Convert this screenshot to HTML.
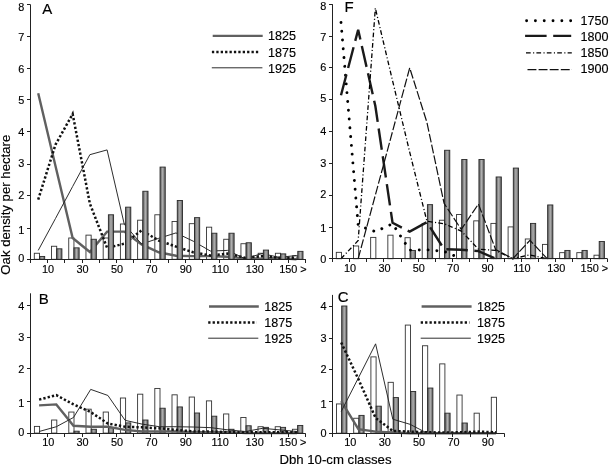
<!DOCTYPE html>
<html><head><meta charset="utf-8"><style>
html,body{margin:0;padding:0;background:#fff;}
body{width:609px;height:465px;overflow:hidden;}
svg{display:block;filter:grayscale(1);}
text{font-family:"Liberation Sans", sans-serif;fill:#000;stroke:#000;stroke-width:0.15px;}
.tk{font-size:10.9px;}
.lg{font-size:12.6px;}
.pl{font-size:15px;}
.ttl{font-size:13.2px;}
.ax{stroke:#222;stroke-width:1;fill:none;}
.bw{fill:#fff;stroke:#333;stroke-width:0.9;}
.bg{fill:url(#gg);stroke:#2a2a2a;stroke-width:0.9;}
.s1825{stroke:#606060;stroke-width:2.4;fill:none;stroke-linejoin:miter}
.s1875{stroke:#111;stroke-width:2.5;fill:none;stroke-dasharray:2.3 2.1}
.s1925{stroke:#222;stroke-width:0.95;fill:none}
.s1750{stroke:#000;stroke-width:2.9;fill:none;stroke-dasharray:0.01 8.8;stroke-linecap:round}
.s1800{stroke:#1a1a1a;stroke-width:2.4;fill:none;stroke-dasharray:21.5 6.6}
.s1850{stroke:#000;stroke-width:1.3;fill:none;stroke-dasharray:4.7 2.4 1.1 2.2}
.s1900{stroke:#111;stroke-width:1.2;fill:none;stroke-dasharray:8.9 2.2}
</style></head>
<body><svg width="609" height="465" viewBox="0 0 609 465">
<defs><linearGradient id="gg" x1="0" x2="1" y1="0" y2="0"><stop offset="0" stop-color="#5c5c5c"/><stop offset="0.3" stop-color="#8c8c8c"/><stop offset="0.5" stop-color="#b0b0b0"/><stop offset="0.7" stop-color="#8c8c8c"/><stop offset="1" stop-color="#5c5c5c"/></linearGradient></defs>
<rect width="609" height="465" fill="#fff"/>
<rect x="34.3" y="253.26" width="5.2" height="6.04" class="bw"/>
<rect x="51.52" y="246.26" width="5.2" height="13.04" class="bw"/>
<rect x="68.74" y="237.99" width="5.2" height="21.31" class="bw"/>
<rect x="85.96" y="235.13" width="5.2" height="24.17" class="bw"/>
<rect x="103.18" y="237.99" width="5.2" height="21.31" class="bw"/>
<rect x="120.4" y="224" width="5.2" height="35.3" class="bw"/>
<rect x="137.62" y="220.19" width="5.2" height="39.11" class="bw"/>
<rect x="154.84" y="214.78" width="5.2" height="44.52" class="bw"/>
<rect x="172.06" y="221.46" width="5.2" height="37.84" class="bw"/>
<rect x="189.28" y="223.68" width="5.2" height="35.62" class="bw"/>
<rect x="206.5" y="227.18" width="5.2" height="32.12" class="bw"/>
<rect x="223.72" y="239.27" width="5.2" height="20.03" class="bw"/>
<rect x="240.94" y="243.72" width="5.2" height="15.58" class="bw"/>
<rect x="258.16" y="253.26" width="5.2" height="6.04" class="bw"/>
<rect x="275.38" y="253.26" width="5.2" height="6.04" class="bw"/>
<rect x="292.6" y="255.8" width="5.2" height="3.5" class="bw"/>
<polyline class="s1825" points="38.21,93.3 55.43,165.81 72.65,237.99 89.87,251.99 107.09,231.63 124.31,231.63 141.53,244.35 158.75,252.3 175.97,255.8 193.19,256.12 210.41,256.12 227.63,256.76 244.85,258.35 262.07,258.66 279.29,258.03 296.51,259.3"/>
<polyline class="s1875" points="38.21,199.52 55.43,144.82 72.65,113.97 89.87,203.65 107.09,247.85 124.31,243.72 141.53,230.36 158.75,240.54 175.97,246.58 193.19,252.3 210.41,255.48 227.63,253.58 244.85,257.71 262.07,256.12 279.29,257.71 296.51,257.71"/>
<polyline class="s1925" points="38.21,250.4 55.43,218.6 72.65,186.48 89.87,154.68 107.09,149.91 124.31,224.32 141.53,244.04 158.75,238.31 175.97,232.91 193.19,241.17 210.41,251.03 227.63,250.4 244.85,258.66 262.07,253.58 279.29,257.39 296.51,255.48"/>
<rect x="39.5" y="256.44" width="5.2" height="2.86" class="bg"/>
<rect x="56.72" y="248.81" width="5.2" height="10.49" class="bg"/>
<rect x="73.94" y="247.85" width="5.2" height="11.45" class="bg"/>
<rect x="91.16" y="239.27" width="5.2" height="20.03" class="bg"/>
<rect x="108.38" y="214.78" width="5.2" height="44.52" class="bg"/>
<rect x="125.6" y="207.15" width="5.2" height="52.15" class="bg"/>
<rect x="142.82" y="191.25" width="5.2" height="68.05" class="bg"/>
<rect x="160.04" y="167.08" width="5.2" height="92.22" class="bg"/>
<rect x="177.26" y="200.47" width="5.2" height="58.83" class="bg"/>
<rect x="194.48" y="217.64" width="5.2" height="41.66" class="bg"/>
<rect x="211.7" y="233.22" width="5.2" height="26.08" class="bg"/>
<rect x="228.92" y="233.22" width="5.2" height="26.08" class="bg"/>
<rect x="246.14" y="242.76" width="5.2" height="16.54" class="bg"/>
<rect x="263.36" y="250.08" width="5.2" height="9.22" class="bg"/>
<rect x="280.58" y="253.89" width="5.2" height="5.41" class="bg"/>
<rect x="297.8" y="251.35" width="5.2" height="7.95" class="bg"/>
<path class="ax" d="M30.5 4.6V260" />
<path class="ax" d="M30 259.5H305.92" />
<path class="ax" d="M27 259.5H30.5" />
<text class="tk" text-anchor="end" transform="translate(24.3,262.3) scale(1,1.0)">0</text>
<path class="ax" d="M27 228.5H30.5" />
<text class="tk" text-anchor="end" transform="translate(24.3,233.6) scale(1,1.0)">1</text>
<path class="ax" d="M27 195.5H30.5" />
<text class="tk" text-anchor="end" transform="translate(24.3,199.2) scale(1,1.0)">2</text>
<path class="ax" d="M27 164.5H30.5" />
<text class="tk" text-anchor="end" transform="translate(24.3,167.2) scale(1,1.0)">3</text>
<path class="ax" d="M27 131.5H30.5" />
<text class="tk" text-anchor="end" transform="translate(24.3,135.8) scale(1,1.0)">4</text>
<path class="ax" d="M27 99.5H30.5" />
<text class="tk" text-anchor="end" transform="translate(24.3,103.8) scale(1,1.0)">5</text>
<path class="ax" d="M27 68.5H30.5" />
<text class="tk" text-anchor="end" transform="translate(24.3,72.6) scale(1,1.0)">6</text>
<path class="ax" d="M27 36.5H30.5" />
<text class="tk" text-anchor="end" transform="translate(24.3,41.3) scale(1,1.0)">7</text>
<path class="ax" d="M27 4.5H30.5" />
<text class="tk" text-anchor="end" transform="translate(24.3,10.7) scale(1,1.0)">8</text>
<path class="ax" d="M30.5 259.5V263" />
<path class="ax" d="M47.5 259.5V263" />
<path class="ax" d="M64.5 259.5V263" />
<path class="ax" d="M82.5 259.5V263" />
<path class="ax" d="M99.5 259.5V263" />
<path class="ax" d="M116.5 259.5V263" />
<path class="ax" d="M133.5 259.5V263" />
<path class="ax" d="M150.5 259.5V263" />
<path class="ax" d="M168.5 259.5V263" />
<path class="ax" d="M185.5 259.5V263" />
<path class="ax" d="M202.5 259.5V263" />
<path class="ax" d="M219.5 259.5V263" />
<path class="ax" d="M237.5 259.5V263" />
<path class="ax" d="M254.5 259.5V263" />
<path class="ax" d="M271.5 259.5V263" />
<path class="ax" d="M288.5 259.5V263" />
<path class="ax" d="M305.5 259.5V263" />
<text class="tk" text-anchor="middle" transform="translate(48.12,273.3) scale(1,1.0)">10</text>
<text class="tk" text-anchor="middle" transform="translate(82.56,273.3) scale(1,1.0)">30</text>
<text class="tk" text-anchor="middle" transform="translate(117,273.3) scale(1,1.0)">50</text>
<text class="tk" text-anchor="middle" transform="translate(151.44,273.3) scale(1,1.0)">70</text>
<text class="tk" text-anchor="middle" transform="translate(185.88,273.3) scale(1,1.0)">90</text>
<text class="tk" text-anchor="middle" transform="translate(220.32,273.3) scale(1,1.0)">110</text>
<text class="tk" text-anchor="middle" transform="translate(254.76,273.3) scale(1,1.0)">130</text>
<text class="tk" text-anchor="middle" transform="translate(288.3,273.3) scale(1,1.0)">150</text>
<text class="tk" text-anchor="middle" transform="translate(303.52,272.7) scale(1,1.0)">&gt;</text>
<text class="pl" transform="translate(42.2,13.6) scale(1,1.02)">A</text>
<path class="s1825" d="M212.7 35.9H262.7"/>
<text class="lg" transform="translate(268,40) scale(1,1.07)">1825</text>
<path class="s1875" d="M211.9 51.9H258.6"/>
<text class="lg" transform="translate(268,56.9) scale(1,1.07)">1875</text>
<path class="s1925" d="M211.8 67.8H262.4"/>
<text class="lg" transform="translate(268,72.5) scale(1,1.07)">1925</text>
<rect x="336.3" y="252.34" width="5.2" height="6.36" class="bw"/>
<rect x="353.48" y="245.98" width="5.2" height="12.72" class="bw"/>
<rect x="370.66" y="237.39" width="5.2" height="21.31" class="bw"/>
<rect x="387.84" y="235.17" width="5.2" height="23.53" class="bw"/>
<rect x="405.02" y="237.71" width="5.2" height="20.99" class="bw"/>
<rect x="422.2" y="223.4" width="5.2" height="35.3" class="bw"/>
<rect x="439.38" y="220.22" width="5.2" height="38.48" class="bw"/>
<rect x="456.56" y="214.5" width="5.2" height="44.2" class="bw"/>
<rect x="473.74" y="220.86" width="5.2" height="37.84" class="bw"/>
<rect x="490.92" y="223.4" width="5.2" height="35.3" class="bw"/>
<rect x="508.1" y="226.9" width="5.2" height="31.8" class="bw"/>
<rect x="525.28" y="238.98" width="5.2" height="19.72" class="bw"/>
<rect x="542.46" y="244.39" width="5.2" height="14.31" class="bw"/>
<rect x="559.64" y="252.66" width="5.2" height="6.04" class="bw"/>
<rect x="576.82" y="252.66" width="5.2" height="6.04" class="bw"/>
<rect x="594" y="255.2" width="5.2" height="3.5" class="bw"/>
<rect x="410.22" y="250.43" width="5.2" height="8.27" class="bg"/>
<rect x="427.4" y="204.64" width="5.2" height="54.06" class="bg"/>
<rect x="444.58" y="150.26" width="5.2" height="108.44" class="bg"/>
<rect x="461.76" y="159.48" width="5.2" height="99.22" class="bg"/>
<rect x="478.94" y="159.48" width="5.2" height="99.22" class="bg"/>
<rect x="496.12" y="176.97" width="5.2" height="81.73" class="bg"/>
<rect x="513.3" y="168.07" width="5.2" height="90.63" class="bg"/>
<rect x="530.48" y="223.4" width="5.2" height="35.3" class="bg"/>
<rect x="547.66" y="204.96" width="5.2" height="53.74" class="bg"/>
<rect x="564.84" y="250.43" width="5.2" height="8.27" class="bg"/>
<rect x="582.02" y="250.43" width="5.2" height="8.27" class="bg"/>
<rect x="599.2" y="241.53" width="5.2" height="17.17" class="bg"/>
<polyline class="s1750" points="340.99,22.43 358.17,225.31 375.35,231.67 392.53,223.72 409.71,250.11 426.89,249.8 444.07,251.39 461.25,258.7"/>
<polyline class="s1800" points="340.99,95.25 358.17,29.74 375.35,106.06 392.53,222.77 409.71,231.67 426.89,222.13 444.07,249.16 461.25,249.8 478.43,251.07 495.61,258.7"/>
<polyline class="s1850" points="340.99,258.7 358.17,240.57 375.35,8.12 392.53,80.62 409.71,152.17 426.89,221.18 444.07,223.72 461.25,231.03 478.43,249.16 495.61,250.43 512.79,258.7 529.97,254.88 547.15,258.7"/>
<polyline class="s1900" points="358.17,258.7 375.35,195.1 392.53,131.5 409.71,67.9 426.89,122.28 444.07,203.37 461.25,229.44 478.43,204 495.61,249.48 512.79,258.7 529.97,240.26 547.15,258.7"/>
<path class="ax" d="M332.5 4.2V259" />
<path class="ax" d="M332 258.5H607.28" />
<path class="ax" d="M329 258.5H332.5" />
<text class="tk" text-anchor="end" transform="translate(326.3,262.7) scale(1,1.0)">0</text>
<path class="ax" d="M329 227.5H332.5" />
<text class="tk" text-anchor="end" transform="translate(326.3,232.4) scale(1,1.0)">1</text>
<path class="ax" d="M329 195.5H332.5" />
<text class="tk" text-anchor="end" transform="translate(326.3,198) scale(1,1.0)">2</text>
<path class="ax" d="M329 163.5H332.5" />
<text class="tk" text-anchor="end" transform="translate(326.3,166.9) scale(1,1.0)">3</text>
<path class="ax" d="M329 131.5H332.5" />
<text class="tk" text-anchor="end" transform="translate(326.3,135.2) scale(1,1.0)">4</text>
<path class="ax" d="M329 99.5H332.5" />
<text class="tk" text-anchor="end" transform="translate(326.3,102.4) scale(1,1.0)">5</text>
<path class="ax" d="M329 67.5H332.5" />
<text class="tk" text-anchor="end" transform="translate(326.3,71.4) scale(1,1.0)">6</text>
<path class="ax" d="M329 36.5H332.5" />
<text class="tk" text-anchor="end" transform="translate(326.3,40.5) scale(1,1.0)">7</text>
<path class="ax" d="M329 4.5H332.5" />
<text class="tk" text-anchor="end" transform="translate(326.3,10.2) scale(1,1.0)">8</text>
<path class="ax" d="M332.5 258.5V262" />
<path class="ax" d="M349.5 258.5V262" />
<path class="ax" d="M366.5 258.5V262" />
<path class="ax" d="M383.5 258.5V262" />
<path class="ax" d="M401.5 258.5V262" />
<path class="ax" d="M418.5 258.5V262" />
<path class="ax" d="M435.5 258.5V262" />
<path class="ax" d="M452.5 258.5V262" />
<path class="ax" d="M469.5 258.5V262" />
<path class="ax" d="M487.5 258.5V262" />
<path class="ax" d="M504.5 258.5V262" />
<path class="ax" d="M521.5 258.5V262" />
<path class="ax" d="M538.5 258.5V262" />
<path class="ax" d="M555.5 258.5V262" />
<path class="ax" d="M572.5 258.5V262" />
<path class="ax" d="M590.5 258.5V262" />
<path class="ax" d="M607.5 258.5V262" />
<text class="tk" text-anchor="middle" transform="translate(350.08,272.3) scale(1,1.0)">10</text>
<text class="tk" text-anchor="middle" transform="translate(384.44,272.3) scale(1,1.0)">30</text>
<text class="tk" text-anchor="middle" transform="translate(418.8,272.3) scale(1,1.0)">50</text>
<text class="tk" text-anchor="middle" transform="translate(453.16,272.3) scale(1,1.0)">70</text>
<text class="tk" text-anchor="middle" transform="translate(487.52,272.3) scale(1,1.0)">90</text>
<text class="tk" text-anchor="middle" transform="translate(521.88,272.3) scale(1,1.0)">110</text>
<text class="tk" text-anchor="middle" transform="translate(556.24,272.3) scale(1,1.0)">130</text>
<text class="tk" text-anchor="middle" transform="translate(589.7,272.3) scale(1,1.0)">150</text>
<text class="tk" text-anchor="middle" transform="translate(604.88,271.7) scale(1,1.0)">&gt;</text>
<text class="pl" transform="translate(344.6,11.9) scale(1,1.02)">F</text>
<path class="s1750" d="M526.6 20.7H572"/>
<text class="lg" transform="translate(580.4,25.1) scale(1,1.07)">1750</text>
<path class="s1800" d="M525.1 35.9H571.2"/>
<text class="lg" transform="translate(580.4,40.9) scale(1,1.07)">1800</text>
<path class="s1850" d="M526 52.8H571.8"/>
<text class="lg" transform="translate(580.4,56.7) scale(1,1.07)">1850</text>
<path class="s1900" d="M527.5 69.6H572"/>
<text class="lg" transform="translate(580.4,72.5) scale(1,1.07)">1900</text>
<rect x="34.4" y="426.4" width="5.2" height="6.7" class="bw"/>
<rect x="51.6" y="420.02" width="5.2" height="13.08" class="bw"/>
<rect x="68.8" y="412.05" width="5.2" height="21.05" class="bw"/>
<rect x="86" y="409.18" width="5.2" height="23.92" class="bw"/>
<rect x="103.2" y="412.05" width="5.2" height="21.05" class="bw"/>
<rect x="120.4" y="398.01" width="5.2" height="35.09" class="bw"/>
<rect x="137.6" y="394.18" width="5.2" height="38.92" class="bw"/>
<rect x="154.8" y="388.44" width="5.2" height="44.66" class="bw"/>
<rect x="172" y="394.82" width="5.2" height="38.28" class="bw"/>
<rect x="189.2" y="397.05" width="5.2" height="36.05" class="bw"/>
<rect x="206.4" y="400.88" width="5.2" height="32.22" class="bw"/>
<rect x="223.6" y="413.96" width="5.2" height="19.14" class="bw"/>
<rect x="240.8" y="417.47" width="5.2" height="15.63" class="bw"/>
<rect x="258" y="426.72" width="5.2" height="6.38" class="bw"/>
<rect x="275.2" y="426.72" width="5.2" height="6.38" class="bw"/>
<rect x="292.4" y="429.27" width="5.2" height="3.83" class="bw"/>
<rect x="74" y="431.19" width="5.2" height="1.91" class="bg"/>
<rect x="91.2" y="429.27" width="5.2" height="3.83" class="bg"/>
<rect x="108.4" y="427.68" width="5.2" height="5.42" class="bg"/>
<rect x="125.6" y="422.89" width="5.2" height="10.21" class="bg"/>
<rect x="142.8" y="420.02" width="5.2" height="13.08" class="bg"/>
<rect x="160" y="408.22" width="5.2" height="24.88" class="bg"/>
<rect x="177.2" y="406.94" width="5.2" height="26.16" class="bg"/>
<rect x="194.4" y="413" width="5.2" height="20.1" class="bg"/>
<rect x="211.6" y="416.19" width="5.2" height="16.91" class="bg"/>
<rect x="228.8" y="429.27" width="5.2" height="3.83" class="bg"/>
<rect x="246" y="425.76" width="5.2" height="7.34" class="bg"/>
<rect x="263.2" y="427.36" width="5.2" height="5.74" class="bg"/>
<rect x="280.4" y="427.36" width="5.2" height="5.74" class="bg"/>
<rect x="297.6" y="425.44" width="5.2" height="7.66" class="bg"/>
<polyline class="s1825" points="39.1,405.35 56.3,404.39 73.5,425.76 90.7,426.72 107.9,426.72 125.1,429.91 142.3,431.5 159.5,431.5 176.7,431.5 193.9,432.14 211.1,432.14 228.3,432.14 245.5,433.1 262.7,433.1 279.9,433.1 297.1,433.1"/>
<polyline class="s1875" points="39.1,399.61 56.3,395.14 73.5,404.39 90.7,412.05 107.9,423.53 125.1,426.72 142.3,427.36 159.5,428.31 176.7,429.91 193.9,431.5 211.1,431.5 228.3,432.14 245.5,432.14 262.7,432.14 279.9,432.14 297.1,432.14"/>
<polyline class="s1925" points="39.1,431.5 56.3,426.72 73.5,417.47 90.7,389.4 107.9,395.46 125.1,420.34 142.3,424.17 159.5,426.72 176.7,426.72 193.9,427.04 211.1,427.68 228.3,429.91 245.5,431.5 262.7,428.31 279.9,429.91 297.1,431.5"/>
<path class="ax" d="M30.5 293.3V434" />
<path class="ax" d="M30 433.5H305.7" />
<path class="ax" d="M27 433.5H30.5" />
<text class="tk" text-anchor="end" transform="translate(24.4,436.3) scale(1,1.0)">0</text>
<path class="ax" d="M27 401.5H30.5" />
<text class="tk" text-anchor="end" transform="translate(24.4,407.4) scale(1,1.0)">1</text>
<path class="ax" d="M27 368.5H30.5" />
<text class="tk" text-anchor="end" transform="translate(24.4,373.2) scale(1,1.0)">2</text>
<path class="ax" d="M27 337.5H30.5" />
<text class="tk" text-anchor="end" transform="translate(24.4,341.4) scale(1,1.0)">3</text>
<path class="ax" d="M27 305.5H30.5" />
<text class="tk" text-anchor="end" transform="translate(24.4,309.9) scale(1,1.0)">4</text>
<path class="ax" d="M30.5 433.5V437" />
<path class="ax" d="M47.5 433.5V437" />
<path class="ax" d="M64.5 433.5V437" />
<path class="ax" d="M82.5 433.5V437" />
<path class="ax" d="M99.5 433.5V437" />
<path class="ax" d="M116.5 433.5V437" />
<path class="ax" d="M133.5 433.5V437" />
<path class="ax" d="M150.5 433.5V437" />
<path class="ax" d="M168.5 433.5V437" />
<path class="ax" d="M185.5 433.5V437" />
<path class="ax" d="M202.5 433.5V437" />
<path class="ax" d="M219.5 433.5V437" />
<path class="ax" d="M236.5 433.5V437" />
<path class="ax" d="M254.5 433.5V437" />
<path class="ax" d="M271.5 433.5V437" />
<path class="ax" d="M288.5 433.5V437" />
<path class="ax" d="M305.5 433.5V437" />
<text class="tk" text-anchor="middle" transform="translate(48.2,446.3) scale(1,1.0)">10</text>
<text class="tk" text-anchor="middle" transform="translate(82.6,446.3) scale(1,1.0)">30</text>
<text class="tk" text-anchor="middle" transform="translate(117,446.3) scale(1,1.0)">50</text>
<text class="tk" text-anchor="middle" transform="translate(151.4,446.3) scale(1,1.0)">70</text>
<text class="tk" text-anchor="middle" transform="translate(185.8,446.3) scale(1,1.0)">90</text>
<text class="tk" text-anchor="middle" transform="translate(220.2,446.3) scale(1,1.0)">110</text>
<text class="tk" text-anchor="middle" transform="translate(254.6,446.3) scale(1,1.0)">130</text>
<text class="tk" text-anchor="middle" transform="translate(288.1,446.3) scale(1,1.0)">150</text>
<text class="tk" text-anchor="middle" transform="translate(303.3,445.7) scale(1,1.0)">&gt;</text>
<text class="pl" transform="translate(38.8,303.7) scale(1,0.95)">B</text>
<path class="s1825" d="M209 306.5H258.8"/>
<text class="lg" transform="translate(264.3,310.7) scale(1,1.07)">1825</text>
<path class="s1875" d="M208.2 322.4H256.7"/>
<text class="lg" transform="translate(264.3,327) scale(1,1.07)">1875</text>
<path class="s1925" d="M208.2 338.2H258.3"/>
<text class="lg" transform="translate(264.3,342.7) scale(1,1.07)">1925</text>
<rect x="336.5" y="403.94" width="5.2" height="29.26" class="bw"/>
<rect x="353.7" y="418.25" width="5.2" height="14.95" class="bw"/>
<rect x="370.9" y="356.88" width="5.2" height="76.32" class="bw"/>
<rect x="388.1" y="382.32" width="5.2" height="50.88" class="bw"/>
<rect x="405.3" y="325.08" width="5.2" height="108.12" class="bw"/>
<rect x="422.5" y="345.75" width="5.2" height="87.45" class="bw"/>
<rect x="439.7" y="363.88" width="5.2" height="69.32" class="bw"/>
<rect x="456.9" y="395.04" width="5.2" height="38.16" class="bw"/>
<rect x="474.1" y="413.17" width="5.2" height="20.03" class="bw"/>
<rect x="491.3" y="397.27" width="5.2" height="35.93" class="bw"/>
<rect x="341.7" y="306" width="5.2" height="127.2" class="bg"/>
<rect x="358.9" y="415.39" width="5.2" height="17.81" class="bg"/>
<rect x="376.1" y="406.17" width="5.2" height="27.03" class="bg"/>
<rect x="393.3" y="397.58" width="5.2" height="35.62" class="bg"/>
<rect x="410.5" y="391.54" width="5.2" height="41.66" class="bg"/>
<rect x="427.7" y="388.04" width="5.2" height="45.16" class="bg"/>
<rect x="444.9" y="413.17" width="5.2" height="20.03" class="bg"/>
<rect x="462.1" y="423.02" width="5.2" height="10.18" class="bg"/>
<polyline class="s1825" points="341.2,401.08 358.4,429.07 375.6,431.61 392.8,432.56 410,433.2 427.2,433.2 444.4,433.2 461.6,433.2 478.8,433.2 496,433.2"/>
<polyline class="s1875" points="341.2,342.57 358.4,379.14 375.6,417.94 392.8,430.97 410,431.61 427.2,432.25 444.4,432.56 461.6,432.25 478.8,431.61 496,432.25"/>
<polyline class="s1925" points="341.2,411.58 358.4,377.87 375.6,343.84 392.8,419.21 410,424.3 427.2,433.2 444.4,433.2 461.6,433.2 478.8,433.2 496,433.2"/>
<path class="ax" d="M332.5 294.9V434" />
<path class="ax" d="M332 433.5H504.6" />
<path class="ax" d="M329 433.5H332.5" />
<text class="tk" text-anchor="end" transform="translate(326.5,436.7) scale(1,1.0)">0</text>
<path class="ax" d="M329 401.5H332.5" />
<text class="tk" text-anchor="end" transform="translate(326.5,407.9) scale(1,1.0)">1</text>
<path class="ax" d="M329 369.5H332.5" />
<text class="tk" text-anchor="end" transform="translate(326.5,373.2) scale(1,1.0)">2</text>
<path class="ax" d="M329 338.5H332.5" />
<text class="tk" text-anchor="end" transform="translate(326.5,342) scale(1,1.0)">3</text>
<path class="ax" d="M329 306.5H332.5" />
<text class="tk" text-anchor="end" transform="translate(326.5,310.2) scale(1,1.0)">4</text>
<path class="ax" d="M332.5 433.5V437" />
<path class="ax" d="M349.5 433.5V437" />
<path class="ax" d="M366.5 433.5V437" />
<path class="ax" d="M384.5 433.5V437" />
<path class="ax" d="M401.5 433.5V437" />
<path class="ax" d="M418.5 433.5V437" />
<path class="ax" d="M435.5 433.5V437" />
<path class="ax" d="M452.5 433.5V437" />
<path class="ax" d="M470.5 433.5V437" />
<path class="ax" d="M487.5 433.5V437" />
<path class="ax" d="M504.5 433.5V437" />
<text class="tk" text-anchor="middle" transform="translate(350.3,445.9) scale(1,1.0)">10</text>
<text class="tk" text-anchor="middle" transform="translate(384.7,445.9) scale(1,1.0)">30</text>
<text class="tk" text-anchor="middle" transform="translate(419.1,445.9) scale(1,1.0)">50</text>
<text class="tk" text-anchor="middle" transform="translate(453.5,445.9) scale(1,1.0)">70</text>
<text class="tk" text-anchor="middle" transform="translate(487.9,445.9) scale(1,1.0)">90</text>
<text class="pl" transform="translate(337.8,301.8) scale(1,0.95)">C</text>
<path class="s1825" d="M421.6 306.5H471.6"/>
<text class="lg" transform="translate(477,310.7) scale(1,1.07)">1825</text>
<path class="s1875" d="M420.7 322.4H469.5"/>
<text class="lg" transform="translate(477,327) scale(1,1.07)">1875</text>
<path class="s1925" d="M420.7 338.2H470.8"/>
<text class="lg" transform="translate(477,342.7) scale(1,1.07)">1925</text>
<text class="ttl" transform="translate(10.2,274.7) rotate(-90)">Oak density per hectare</text>
<text class="ttl" x="279.4" y="463.6">Dbh 10-cm classes</text>
</svg></body></html>
